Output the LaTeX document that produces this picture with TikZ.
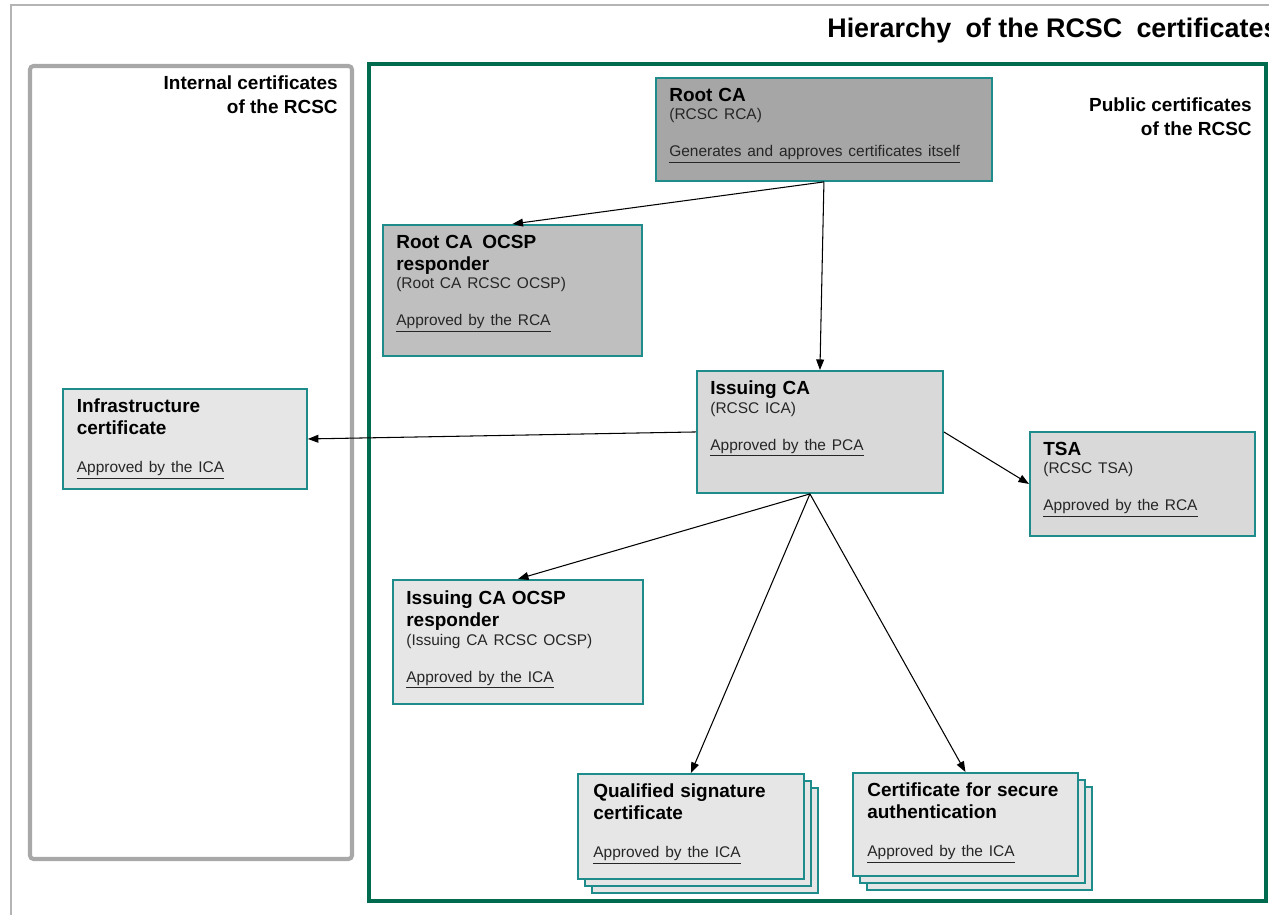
\documentclass[tikz,border=0pt]{standalone}
\usepackage{fontspec}
\setmainfont{Liberation Sans}
\usetikzlibrary{arrows.meta}

\definecolor{outergray}{HTML}{B4B4B4}
\definecolor{internalgray}{HTML}{A8A8A8}
\definecolor{publicgreen}{HTML}{006B4F}
\definecolor{boxteal}{HTML}{1E8C8A}
\definecolor{rootfill}{HTML}{A6A6A6}
\definecolor{ocspfill}{HTML}{BFBFBF}
\definecolor{icafill}{HTML}{D9D9D9}
\definecolor{leaffill}{HTML}{E6E6E6}
\definecolor{notegray}{HTML}{262626}

\newcommand\certtitle{\fontsize{10.8}{12.5}\selectfont\bfseries}
\newcommand\certnote{\fontsize{8.8}{10.6}\selectfont\color{notegray}}
\newcommand\approvedby[2]{\par\vspace{#1}{\certnote\underline{#2}\par}}

\tikzset{
  certbox/.style={draw=boxteal, line width=1.1pt, anchor=north west, inner sep=0pt},
  certtext/.style={anchor=north west, inner sep=0pt, align=left},
  framelabel/.style={anchor=north east, inner sep=0pt, align=right,
    font=\fontsize{10.8}{13.6}\selectfont\bfseries},
  conn/.style={-{Triangle[length=6pt,width=4.5pt]}, line width=0.6pt},
}

\begin{document}
\begin{tikzpicture}[x=0.02cm, y=-0.02cm]
\useasboundingbox (0,0) rectangle (1269,915);

% frames
\draw[outergray, line width=1.7pt] (11,915) -- (11,5) -- (1269,5);
\draw[internalgray, line width=2.3pt, rounded corners=2pt] (30,66) rectangle (352,859);
\draw[publicgreen, line width=2.3pt] (369,64) rectangle (1266,901);

\node[anchor=base west, inner sep=0pt, font=\fontsize{15.3}{18}\selectfont\bfseries] (title)
  at (827,38) {Hierarchy\hspace{0.25em} of the RCSC\hspace{0.25em} certificates};
\node[framelabel] (internal) at (338,75.4) {Internal certificates\\of the RCSC};
\node[framelabel] (public) at (1252,97.4) {Public certificates\\of the RCSC};

% certificate boxes
\node[certbox, fill=rootfill, minimum width=6.72cm, minimum height=2.06cm] (rca) at (655,77) {};
\node[certtext, text width=6.16cm] (rca-t) at ([xshift=0.28cm,yshift=-0.21cm]rca.north west)
  {{\certtitle Root CA\par}{\certnote (RCSC RCA)\par}\approvedby{10.4pt}{Generates and approves certificates itself}};

\node[certbox, fill=ocspfill, minimum width=5.18cm, minimum height=2.62cm] (rocsp) at (382,224) {};
\node[certtext, text width=4.62cm] (rocsp-t) at ([xshift=0.28cm,yshift=-0.21cm]rocsp.north west)
  {{\certtitle Root CA\hspace{0.2em} OCSP\\responder\par}{\certnote (Root CA RCSC OCSP)\par}\approvedby{10.4pt}{Approved by the RCA}};

\node[certbox, fill=icafill, minimum width=4.92cm, minimum height=2.44cm] (ica) at (696,370) {};
\node[certtext, text width=4.36cm] (ica-t) at ([xshift=0.28cm,yshift=-0.21cm]ica.north west)
  {{\certtitle Issuing CA\par}{\certnote (RCSC ICA)\par}\approvedby{10.4pt}{Approved by the PCA}};

\node[certbox, fill=icafill, minimum width=4.50cm, minimum height=2.08cm] (tsa) at (1029,431) {};
\node[certtext, text width=3.94cm] (tsa-t) at ([xshift=0.28cm,yshift=-0.21cm]tsa.north west)
  {{\certtitle TSA\par}{\certnote (RCSC TSA)\par}\approvedby{10.4pt}{Approved by the RCA}};

\node[certbox, fill=leaffill, minimum width=4.88cm, minimum height=2.00cm] (infra) at (62,388) {};
\node[certtext, text width=4.30cm] (infra-t) at ([xshift=0.29cm,yshift=-0.21cm]infra.north west)
  {{\certtitle Infrastructure\\certificate\par}\approvedby{11.2pt}{Approved by the ICA}};

\node[certbox, fill=leaffill, minimum width=5.00cm, minimum height=2.48cm] (iocsp) at (392,579) {};
\node[certtext, text width=4.44cm] (iocsp-t) at ([xshift=0.28cm,yshift=-0.23cm]iocsp.north west)
  {{\certtitle Issuing CA OCSP\\responder\par}{\certnote (Issuing CA RCSC OCSP)\par}\approvedby{10.4pt}{Approved by the ICA}};

% stacked leaf certificates
\node[certbox, fill=leaffill, minimum width=4.52cm, minimum height=2.10cm] (qsc-3) at (591,787) {};
\node[certbox, fill=leaffill, minimum width=4.52cm, minimum height=2.10cm] (qsc-2) at (584,780) {};
\node[certbox, fill=leaffill, minimum width=4.52cm, minimum height=2.10cm] (qsc) at (577,773) {};
\node[certtext, text width=3.96cm] (qsc-t) at ([xshift=0.32cm,yshift=-0.21cm]qsc.north west)
  {{\certtitle Qualified signature\\certificate\par}\approvedby{11.2pt}{Approved by the ICA}};

\node[certbox, fill=leaffill, minimum width=4.50cm, minimum height=2.06cm] (csa-3) at (866,786) {};
\node[certbox, fill=leaffill, minimum width=4.50cm, minimum height=2.06cm] (csa-2) at (859,779) {};
\node[certbox, fill=leaffill, minimum width=4.50cm, minimum height=2.06cm] (csa) at (852,772) {};
\node[certtext, text width=3.96cm] (csa-t) at ([xshift=0.30cm,yshift=-0.21cm]csa.north west)
  {{\certtitle Certificate for secure\\authentication\par}\approvedby{11.2pt}{Approved by the ICA}};

% connectors
\coordinate (ica-foot) at ([xshift=-0.2cm]ica.south);
\draw[conn] (rca.south) -- (rocsp.north);
\draw[conn] (rca.south) -- (ica.north);
\draw[conn] (ica.west) -- (infra.east);
\draw[conn] (ica.east) -- (tsa.west);
\draw[conn] (ica-foot) -- (iocsp.north);
\draw[conn] (ica-foot) -- (qsc.north);
\draw[conn] (ica-foot) -- (csa.north);
\end{tikzpicture}
\end{document}
